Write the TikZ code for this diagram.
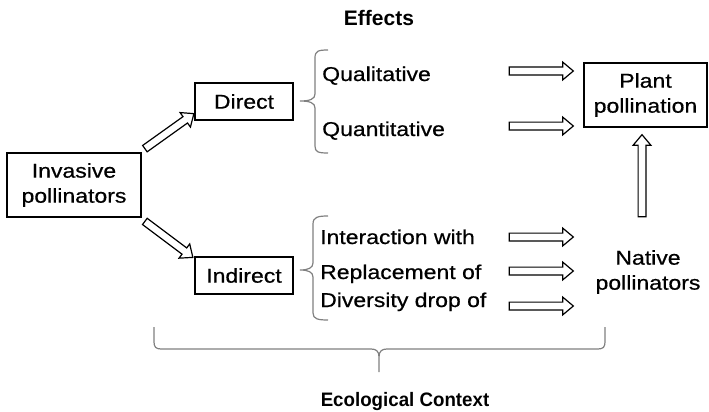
\documentclass[tikz,border=0pt]{standalone}
\usepackage{fontspec}
\setmainfont{Liberation Sans}[FakeStretch=1.15,FakeBold=0.6]
\newfontfamily\plainsans{Liberation Sans}
\newfontfamily\narrowsans{Liberation Sans}[FakeStretch=0.96]
\usetikzlibrary{shapes.arrows,calc}
\tikzset{
  box/.style={draw, line width=1.5pt, align=center, inner sep=0pt},
  lbl/.style={anchor=base west, inner sep=0pt, font=\fontsize{20}{25}\selectfont},
  barrow/.style={single arrow, draw, fill=white, line width=1.2pt, inner xsep=0pt,
    inner ysep=3.3pt, single arrow head extend=5pt, single arrow tip angle=80,
    minimum width=1pt, outer sep=0pt},
  bracepath/.style={draw, color=black!50, line width=1.2pt}
}
\newcommand{\blockarrow}[2]{%
  \path let \p1=($(#2)-(#1)$), \n1={veclen(\x1,\y1)}, \n2={atan2(\y1,\x1)} in
    node[barrow, minimum height=\n1, rotate=\n2] at ($(#1)!0.5!(#2)$) {};}
\begin{document}
\begin{tikzpicture}[x=1pt,y=-1pt]
\useasboundingbox (0,0) rectangle (709,412);
\tikzset{every node/.append style={font=\fontsize{20}{25}\selectfont}}
% boxes
\node[box, minimum width=134pt, minimum height=64pt] (inv) at (74,185) {Invasive\\pollinators};
\node[box, minimum width=98pt, minimum height=37pt] (dir) at (244,101.5) {Direct};
\node[box, minimum width=98pt, minimum height=37pt] (ind) at (244,275.5) {Indirect};
\node[box, minimum width=123pt, minimum height=64pt] (plant) at (645.5,95) {Plant\\pollination};
\node[align=center, inner sep=0pt] (nat) at (648,272) {Native\\pollinators};
% labels
\node[anchor=base, inner sep=0pt, font=\plainsans\bfseries\fontsize{21}{25}\selectfont] (eff) at (379,26) {Effects};
\node[lbl] (qual) at (322,81) {Qualitative};
\node[lbl] (quan) at (322,136) {Quantitative};
\node[lbl] (inter) at (320,244) {Interaction with};
\node[lbl] (repl) at (320,279) {Replacement of};
\node[lbl] (div) at (320,307) {Diversity drop of};
\node[anchor=base, inner sep=0pt, font=\narrowsans\bfseries\fontsize{19.5}{23}\selectfont] (eco) at (405,406) {Ecological Context};
% braces
\path[bracepath] (328,50) .. controls (318,50) and (315,51) .. (315,58)
  -- (315,94) .. controls (315,99) and (310,101) .. (300,101)
  .. controls (310,101) and (315,103) .. (315,108)
  -- (315,146) .. controls (315,152) and (318,153) .. (328,153);
\path[bracepath] (328,216) .. controls (318,216) and (313,217) .. (313,224)
  -- (313,263) .. controls (313,268) and (308,270) .. (300,270)
  .. controls (308,270) and (313,272) .. (313,277)
  -- (313,313) .. controls (313,319) and (318,320) .. (328,320);
\path[bracepath] (154,327) -- (154,342) .. controls (154,347) and (156,349) .. (161,349)
  -- (371,349) .. controls (376,349) and (379,351) .. (379,357) -- (379,372)
  (379,357) .. controls (379,351) and (382,349) .. (387,349)
  -- (598,349) .. controls (603,349) and (605,347) .. (605,342) -- (605,327);
% arrow end points
\coordinate (a1s) at (143,150); \coordinate (a1e) at (192,115);
\coordinate (a2s) at (143,220); \coordinate (a2e) at (191,256);
\coordinate (q1s) at (507,71);  \coordinate (q1e) at (571,71);
\coordinate (q2s) at (507,126); \coordinate (q2e) at (571,126);
\coordinate (i1s) at (507,237); \coordinate (i1e) at (571,237);
\coordinate (i2s) at (507,271); \coordinate (i2e) at (571,271);
\coordinate (i3s) at (507,306); \coordinate (i3e) at (571,306);
\coordinate (vs) at (642,219);  \coordinate (ve) at (642,137);
\blockarrow{a1s}{a1e}
\blockarrow{a2s}{a2e}
\blockarrow{q1s}{q1e}
\blockarrow{q2s}{q2e}
\blockarrow{i1s}{i1e}
\blockarrow{i2s}{i2e}
\blockarrow{i3s}{i3e}
\blockarrow{vs}{ve}
\end{tikzpicture}
\end{document}
